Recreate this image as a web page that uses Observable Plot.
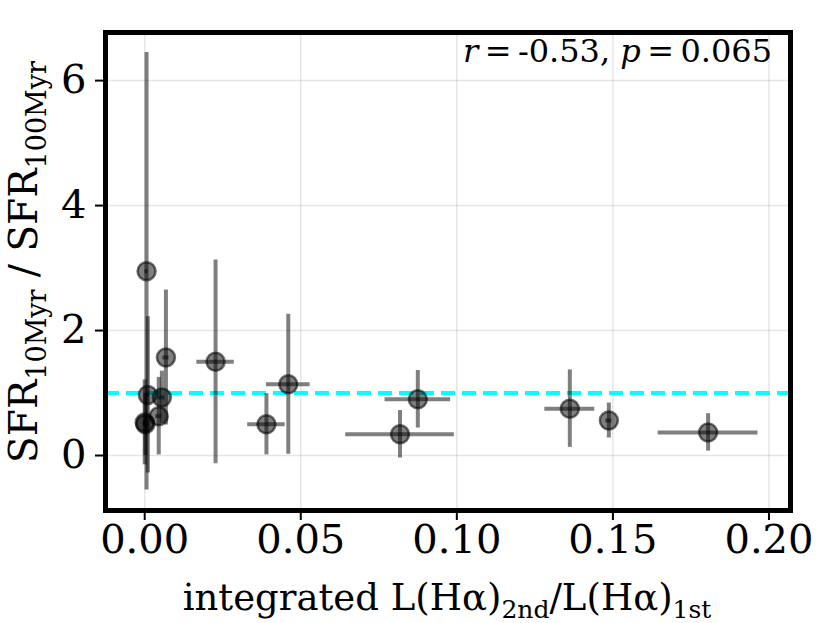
<!DOCTYPE html>
<html><head><meta charset="utf-8">
<script src="https://cdn.jsdelivr.net/npm/d3@7"></script>
<script src="https://cdn.jsdelivr.net/npm/@observablehq/plot@0.6"></script>
<style>
html,body{margin:0;padding:0;background:#fff;}
svg{display:block;}
</style></head>
<body><div id="chart"></div>
<script>
// data
const xVals = [0.0006, 0.0010, 0.0068, 0.0055, 0.0045, 0.0000, 0.0002, 0.0227, 0.0390, 0.0460, 0.0818, 0.0875, 0.1362, 0.1487, 0.1805];
const yVals = [2.95, 0.97, 1.57, 0.93, 0.63, 0.53, 0.50, 1.50, 0.50, 1.14, 0.34, 0.90, 0.75, 0.56, 0.37];
const xErr  = [0.0005, 0.0005, 0.0010, 0.0010, 0.0010, 0.0005, 0.0005, 0.0060, 0.0060, 0.0070, 0.0174, 0.0105, 0.0080, 0.0010, 0.0160];
const yErr  = [3.50, 1.25, 1.08, 0.42, 0.62, 0.68, 0.50, 1.63, 0.49, 1.12, 0.38, 0.46, 0.62, 0.28, 0.30];
const xTicks = [0, 0.05, 0.10, 0.15, 0.20];
const yTicks = [0, 2, 4, 6];
const refLine = [1];
const annot = {r: "-0.53", p: "0.065"};

const data = xVals.map((x, i) => ({x, y: yVals[i], xe: xErr[i], ye: yErr[i]}));
const FONT = "DejaVu Serif";

const plot = Plot.plot({
  width: 830, height: 623,
  marginLeft: 105, marginRight: 40, marginTop: 32, marginBottom: 113,
  style: {fontFamily: FONT, background: "#fff", color: "#000"},
  x: {domain: [-0.01256, 0.2069]},
  y: {domain: [-0.88, 6.77]},
  marks: [
    Plot.gridX(xTicks, {stroke: "#000", strokeOpacity: 0.1, strokeWidth: 1.5}),
    Plot.gridY(yTicks, {stroke: "#000", strokeOpacity: 0.1, strokeWidth: 1.5}),
    Plot.ruleY(refLine, {stroke: "#00ffff", strokeWidth: 4, strokeDasharray: "14,7"}),
    Plot.ruleY(data, {y: "y", x1: d => d.x - d.xe, x2: d => d.x + d.xe, stroke: "#000", strokeOpacity: 0.5, strokeWidth: 4}),
    Plot.ruleX(data, {x: "x", y1: d => d.y - d.ye, y2: d => d.y + d.ye, stroke: "#000", strokeOpacity: 0.5, strokeWidth: 4}),
    Plot.dot(data, {x: "x", y: "y", r: 9, fill: "#000", fillOpacity: 0.5, stroke: "#000", strokeOpacity: 0.55, strokeWidth: 2.5}),
    Plot.frame({stroke: "#000", strokeWidth: 5}),
    Plot.axisX(xTicks, {tickFormat: d3.format(".2f"), tickSize: 10, tickPadding: 4, fontSize: 40, label: null, strokeWidth: 2}),
    Plot.axisY(yTicks, {tickFormat: d3.format("d"), tickSize: 10, tickPadding: 9, fontSize: 40, label: null, strokeWidth: 2})
  ]
});
document.getElementById("chart").appendChild(plot);

const svg = d3.select(plot);
// annotation
const t = svg.append("text").attr("x", 772).attr("y", 62).attr("text-anchor", "end")
  .attr("font-family", FONT).attr("font-size", 32).attr("fill", "#000");
t.append("tspan").attr("font-style", "italic").text("r");
t.append("tspan").text("\u2009=\u2009" + annot.r + ", ");
t.append("tspan").attr("font-style", "italic").text("p");
t.append("tspan").text("\u2009=\u2009" + annot.p);

// x label
const xl = svg.append("text").attr("x", 447).attr("y", 610).attr("text-anchor", "middle")
  .attr("font-family", FONT).attr("font-size", 37).attr("fill", "#000");
xl.append("tspan").text("integrated L(H\u03b1)");
xl.append("tspan").attr("font-size", 25).attr("dy", 8).text("2nd");
xl.append("tspan").attr("dy", -8).text("/L(H\u03b1)");
xl.append("tspan").attr("font-size", 25).attr("dy", 8).text("1st");

// y label
const yl = svg.append("text").attr("transform", "translate(37,262) rotate(-90)").attr("text-anchor", "middle")
  .attr("font-family", FONT).attr("font-size", 39).attr("fill", "#000");
yl.append("tspan").text("SFR");
yl.append("tspan").attr("font-size", 27).attr("dy", 9).text("10Myr");
yl.append("tspan").attr("dy", -9).text(" / SFR");
yl.append("tspan").attr("font-size", 27).attr("dy", 9).text("100Myr");
</script></body></html>
